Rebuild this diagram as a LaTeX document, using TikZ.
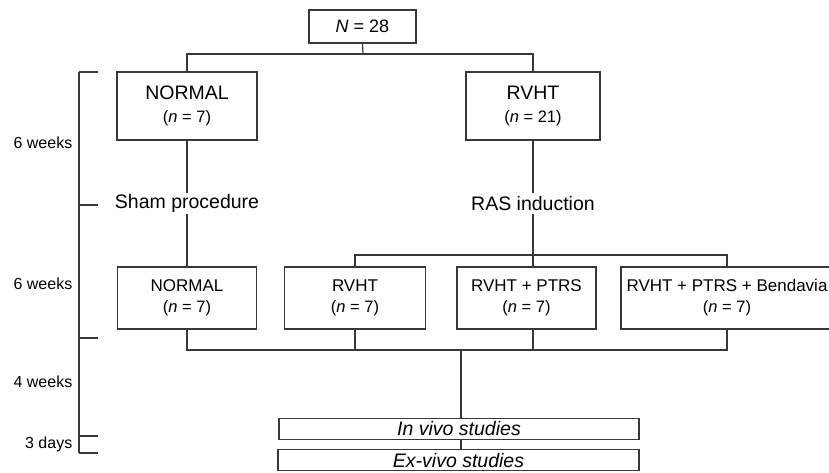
\documentclass[tikz,border=0pt]{standalone}
\usepackage{fontspec}
\setmainfont{Liberation Sans}
\usetikzlibrary{calc}
\begin{document}
\begin{tikzpicture}[x=1pt,y=-1pt,
  ln/.style={draw=black!78,line width=1.2pt},
  box/.style={ln,rectangle,inner sep=0pt,align=center,text=black},
  bigbox/.style={box,minimum height=68pt,font=\fontsize{16.5}{23}\selectfont},
  rowbox/.style={box,minimum height=62pt,font=\fontsize{16.5}{21}\selectfont},
  studybox/.style={box,minimum height=21pt,font=\fontsize{19.5}{21}\selectfont\itshape},
  midlbl/.style={inner sep=0pt,minimum height=21pt,text=black,font=\fontsize{19.5}{23}\selectfont},
  timelbl/.style={inner sep=0pt,anchor=east,text=black,font=\fontsize{16}{19}\selectfont}]
\useasboundingbox (0,0) rectangle (829,472);
\clip (0,0) rectangle (829,472);

% top
\node[box,minimum width=107pt,minimum height=33pt,font=\fontsize{18}{21}\selectfont] (N) at (362.5,26.5) {\textit{N} = 28};
\node[bigbox,minimum width=140pt] (norm1) at (187,106) {{\fontsize{19.5}{23}\selectfont NORMAL}\\(\textit{n} = 7)};
\node[bigbox,minimum width=134pt] (rvht1) at (533,106) {{\fontsize{19.5}{23}\selectfont RVHT}\\(\textit{n} = 21)};

\coordinate (topbar) at (363,54);
\draw[ln] (N.south) -- (topbar);
\draw[ln] (norm1.north) |- (topbar) -| (rvht1.north);

% middle labels
\node[midlbl] (sham) at (187,203.5) {Sham procedure};
\node[midlbl] (ras) at (533,203.5) {RAS induction};
\draw[ln] (norm1.south) -- (sham.north);
\draw[ln] (rvht1.south) -- (ras.north);

% second row
\node[rowbox,minimum width=139pt] (norm2) at (187,298) {{\fontsize{17}{21}\selectfont NORMAL}\\(\textit{n} = 7)};
\node[rowbox,minimum width=141pt] (rvht2) at (355,298) {{\fontsize{17}{21}\selectfont RVHT}\\(\textit{n} = 7)};
\node[rowbox,minimum width=139pt] (ptrs) at (526.5,298) {{\fontsize{17}{21}\selectfont RVHT + PTRS}\\(\textit{n} = 7)};
\node[rowbox,minimum width=212pt] (bend) at (727,298) {{\fontsize{17}{21}\selectfont RVHT + PTRS + Bendavia}\\(\textit{n} = 7)};

\draw[ln] (sham.south) -- (norm2.north);
\coordinate (bar1) at (533,255);
\draw[ln] (ras.south) -- (bar1);
\draw[ln] (rvht2.north) |- (bar1) -| (bend.north);
\draw[ln] (bar1) -- (bar1 |- ptrs.north);

% lower bar
\coordinate (bar2) at (461,350);
\draw[ln] (norm2.south) |- (bar2) -| (bend.south);
\draw[ln] (rvht2.south) -- (rvht2.south |- bar2);
\draw[ln] (ptrs.south -| bar1) -- (bar2 -| bar1);

% studies
\node[studybox,minimum width=360pt] (invivo) at (459,428.8) {In vivo studies};
\node[studybox,minimum width=361pt] (exvivo) at (458.5,460.3) {Ex-vivo studies};
\draw[ln] (bar2) -- (bar2 |- invivo.north);
\draw[ln] (invivo.south -| bar2) -- (exvivo.north -| bar2);

% timeline bracket
\coordinate (t0) at (79,72);
\coordinate (t1) at (79,205);
\coordinate (t2) at (79,338);
\coordinate (t3) at (79,436);
\coordinate (t4) at (79,453);
\draw[ln] (t0) -- (t4);
\foreach \t in {t0,t1,t2,t3,t4} \draw[ln] (\t) -- ++(19,0);
\node[timelbl] (w1) at (72.5,143) {6 weeks};
\node[timelbl] (w2) at (72.5,284) {6 weeks};
\node[timelbl] (w3) at (72.5,382) {4 weeks};
\node[timelbl] (w4) at (72.5,444) {3 days};
\end{tikzpicture}
\end{document}
